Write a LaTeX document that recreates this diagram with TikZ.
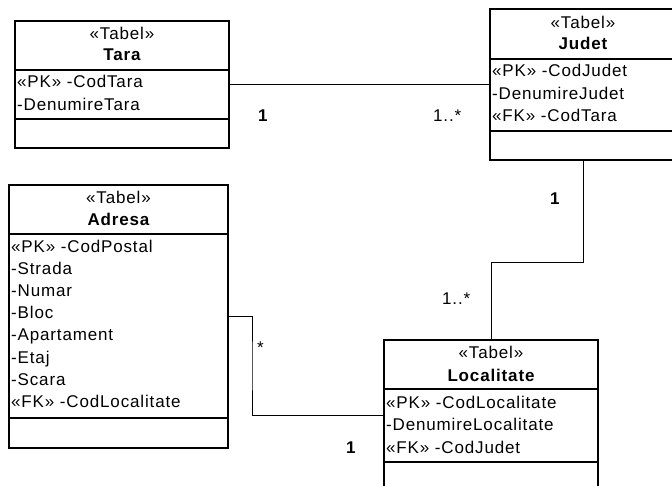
\documentclass[tikz,border=0pt]{standalone}
\usepackage{fontspec}
\setmainfont[LetterSpace=5]{Liberation Sans}
\tikzset{
    tabel/.style={draw, line width=1.4pt, inner sep=0pt, outer sep=0pt, anchor=north west},
    rand/.style={line width=1.4pt},
    titlu/.style={inner sep=0pt, anchor=base, font=\fontsize{17}{20}\selectfont},
    camp/.style={inner sep=0pt, anchor=base west, font=\fontsize{17}{20}\selectfont},
    legatura/.style={line width=0.9pt},
    mult/.style={inner sep=0pt, anchor=base west, font=\fontsize{17}{20}\selectfont}
}
\begin{document}
\begin{tikzpicture}[x=1pt, y=-1pt]
    \clip (0,0) rectangle (672,486);
    \fill[white] (0,0) rectangle (672,486);
    % tabele
    \node[tabel, minimum width=214pt, minimum height=127pt] (tara) at (15,21) {};
    \node[tabel, minimum width=186pt, minimum height=151pt] (judet) at (490,9) {};
    \node[tabel, minimum width=219pt, minimum height=263pt] (adresa) at (9,185) {};
    \node[tabel, minimum width=214pt, minimum height=150pt] (localitate) at (384,340) {};
    % separatoare
    \draw[rand] (15,70) -- (229,70);
    \draw[rand] (15,119) -- (229,119);
    \draw[rand] (490,59) -- (676,59);
    \draw[rand] (490,131) -- (676,131);
    \draw[rand] (9,234) -- (228,234);
    \draw[rand] (9,418) -- (228,418);
    \draw[rand] (384,389) -- (598,389);
    \draw[rand] (384,462) -- (598,462);
    % titluri
    \node[titlu] (tara-st) at (122,40) {«Tabel»};
    \node[titlu] (tara-nume) at (122,61) {\bfseries Tara};
    \node[titlu] (judet-st) at (583,29) {«Tabel»};
    \node[titlu] (judet-nume) at (583,50) {\bfseries Judet};
    \node[titlu] (adresa-st) at (118.5,204) {«Tabel»};
    \node[titlu] (adresa-nume) at (118.5,226) {\bfseries Adresa};
    \node[titlu] (localitate-st) at (491,359) {«Tabel»};
    \node[titlu] (localitate-nume) at (491,381) {\bfseries Localitate};
    % campuri
    \foreach \txt [count=\i] in {«PK» -CodTara, -DenumireTara}
        \node[camp] (tara-\i) at (17,{88+22.5*(\i-1)}) {\txt};
    \foreach \txt [count=\i] in {«PK» -CodJudet, -DenumireJudet, «FK» -CodTara}
        \node[camp] (judet-\i) at (492,{77+22.5*(\i-1)}) {\txt};
    \foreach \txt [count=\i] in {«PK» -CodPostal, -Strada, -Numar, -Bloc, -Apartament, -Etaj, -Scara, «FK» -CodLocalitate}
        \node[camp] (adresa-\i) at (11,{253+22*(\i-1)}) {\txt};
    \foreach \txt [count=\i] in {«PK» -CodLocalitate, -DenumireLocalitate, «FK» -CodJudet}
        \node[camp] (localitate-\i) at (386,{408+22.5*(\i-1)}) {\txt};
    % legaturi
    \coordinate (jbend) at (491,262);
    \coordinate (abend) at (252,366);
    \draw[legatura] (tara.east) -- (judet.west);
    \draw[legatura] (judet.south) |- (jbend) -- (localitate.north);
    \draw[legatura] (adresa.east) -| (abend) |- (localitate.west);
    % multiplicitati
    \node[mult] (m1) at (258,122) {\bfseries 1};
    \node[mult] (m2) at (433,122) {1..*};
    \node[mult] (m3) at (550,205) {\bfseries 1};
    \node[mult] (m4) at (442,305) {1..*};
    \node[mult] (m5) at (257,353) {*};
    \node[mult] (m6) at (346,453) {\bfseries 1};
\end{tikzpicture}
\end{document}
